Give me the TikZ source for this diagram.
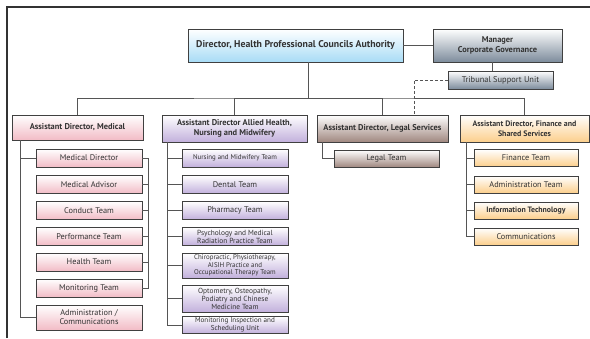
\documentclass[tikz,border=0pt]{standalone}
\usepackage{fontspec}
\setmainfont{PT Sans}
\usetikzlibrary{positioning}
\usetikzlibrary{calc}
\usetikzlibrary{shadows}

\definecolor{txtgray}{HTML}{333333}
\definecolor{linegray}{HTML}{555555}
\definecolor{bluebot}{HTML}{A8DCF6}
\definecolor{slatebot}{HTML}{7D8C9C}
\definecolor{pinkbot}{HTML}{F2BCC6}
\definecolor{lilacbot}{HTML}{C2B0DC}
\definecolor{brownbot}{HTML}{A08880}
\definecolor{orangebot}{HTML}{FCCF8C}

\newcommand{\smallfit}{\fontsize{7.4}{8}\selectfont}

\tikzset{
  box/.style={draw=black!75,line width=0.8pt,inner sep=1pt,align=center,
    text=txtgray,font=\fontsize{8.3}{9}\selectfont,
    drop shadow={shadow xshift=0.7pt,shadow yshift=-0.7pt,fill=black!55,opacity=1}},
  head/.style={box,font=\bfseries\fontsize{8.4}{10}\selectfont},
  dirbox/.style={head,top color=white,bottom color=bluebot},
  govbox/.style={box,top color=white,bottom color=slatebot},
  medbox/.style={box,top color=white,bottom color=pinkbot},
  ahbox/.style={box,top color=white,bottom color=lilacbot},
  legbox/.style={box,top color=white,bottom color=brownbot},
  finbox/.style={box,top color=white,bottom color=orangebot},
  link/.style={draw=linegray,line width=0.8pt}
}

\begin{document}
\begin{tikzpicture}[x=1pt,y=-1pt]
\useasboundingbox (0,0) rectangle (590,338);
\draw[black!80,line width=1.2pt](7,338)--(7,7)--(590,7);

\node[dirbox,minimum width=215,minimum height=33,font=\bfseries\fontsize{9.8}{11}\selectfont](dir) at (295.5,45.5){Director, Health Professional Councils Authority};
\node[govbox,head,top color=white,bottom color=slatebot,minimum width=129,minimum height=33](mgr) at (497.5,45.5){Manager\\Corporate Governance};
\node[govbox,minimum width=105,minimum height=18,font=\fontsize{8.4}{10}\selectfont](tsu) at (500.5,80){Tribunal Support Unit};

\node[medbox,head,top color=white,bottom color=pinkbot,minimum width=131,minimum height=25](admed) at (77.5,127.5){Assistant Director, Medical};
\node[ahbox,head,top color=white,bottom color=lilacbot,minimum width=145,minimum height=27](adah) at (234.5,128.5){Assistant Director Allied Health,\\Nursing and Midwifery};
\node[legbox,head,top color=white,bottom color=brownbot,minimum width=131,minimum height=27](adleg) at (382.5,128.5){Assistant Director, Legal Services};
\node[finbox,head,top color=white,bottom color=orangebot,minimum width=129,minimum height=27,font=\bfseries\fontsize{7.9}{10}\selectfont](adfin) at (524.5,128.5){Assistant Director, Finance and\\Shared Services};

\node[medbox,minimum width=106,minimum height=18](mdir) at (89,158){Medical Director};
\node[medbox,minimum width=106,minimum height=18](madv) at (89,184.5){Medical Advisor};
\node[medbox,minimum width=106,minimum height=18](mcon) at (89,210.5){Conduct Team};
\node[medbox,minimum width=106,minimum height=18](mperf) at (89,236.5){Performance Team};
\node[medbox,minimum width=106,minimum height=18](mhlth) at (89,262){Health Team};
\node[medbox,minimum width=106,minimum height=18](mmon) at (89,288){Monitoring Team};
\node[medbox,minimum width=106,minimum height=25](madm) at (89,317.5){Administration /\\Communications};

\node[ahbox,minimum width=106,minimum height=18,font=\fontsize{6.9}{8}\selectfont](nurse) at (235,158){Nursing and Midwifery Team};
\node[ahbox,minimum width=106,minimum height=18](dent) at (235,184.5){Dental Team};
\node[ahbox,minimum width=106,minimum height=18](pharm) at (235,210.5){Pharmacy Team};
\node[ahbox,minimum width=106,minimum height=18,font=\smallfit](psych) at (235,236.5){Psychology and Medical\\Radiation Practice Team};
\node[ahbox,minimum width=106,minimum height=25,font=\fontsize{6.9}{7.6}\selectfont](chiro) at (235,265.5){Chiropractic, Physiotherapy,\\AISIH Practice and\\Occupational Therapy Team};
\node[ahbox,minimum width=106,minimum height=27,font=\smallfit](optom) at (235,298.5){Optometry, Osteopathy,\\Podiatry and Chinese\\Medicine Team};
\node[ahbox,minimum width=106,minimum height=17,font=\fontsize{7.1}{7.8}\selectfont](insp) at (235,325){Monitoring Inspection and\\Scheduling Unit};

\node[legbox,minimum width=105,minimum height=17](legal) at (386.5,158.5){Legal Team};

\node[finbox,minimum width=104,minimum height=17](fin) at (526,158){Finance Team};
\node[finbox,minimum width=104,minimum height=17](fadm) at (526,184.5){Administration Team};
\node[finbox,minimum width=104,minimum height=17,font=\bfseries\fontsize{7.8}{9}\selectfont](fit) at (526,210.5){Information Technology};
\node[finbox,minimum width=104,minimum height=17](fcom) at (526,236.5){Communications};

\coordinate (bus) at (308,98);

\path[link]
(dir.east) -- (mgr.west)
([xshift=-5pt]mgr.south) -- ([xshift=-8pt]tsu.north)
(dir.south -| bus) -- (bus)
(admed.north) |- (bus) -| (adfin.north)
(adah.north) |- (bus)
(adleg.north) |- (bus)
([xshift=9pt]admed.south west) |- (mdir.west)
([xshift=9pt]admed.south west) |- (madm.west)
(mdir.east) -- ++(6,0) |- (mmon.east)
(madv.east) -- ++(6,0)
(mcon.east) -- ++(6,0)
(mperf.east) -- ++(6,0)
(mhlth.east) -- ++(6,0)
([xshift=6pt]adah.south west) |- (insp.west)
([xshift=6pt]adah.south west) |- (nurse.west)
([xshift=6pt]adah.south west) |- (dent.west)
([xshift=6pt]adah.south west) |- (pharm.west)
([xshift=6pt]adah.south west) |- (psych.west)
([xshift=6pt]adah.south west) |- (chiro.west)
([xshift=6pt]adah.south west) |- (optom.west)
([xshift=6pt]adleg.south west) |- (legal.west)
([xshift=7pt]adfin.south west) |- (fcom.west)
([xshift=7pt]adfin.south west) |- (fin.west)
([xshift=7pt]adfin.south west) |- (fadm.west)
([xshift=7pt]adfin.south west) |- (fit.west);

\draw[link,dashed,dash pattern=on 3pt off 2pt](tsu.west) -| ([xshift=31.5pt]adleg.north);
\end{tikzpicture}
\end{document}
